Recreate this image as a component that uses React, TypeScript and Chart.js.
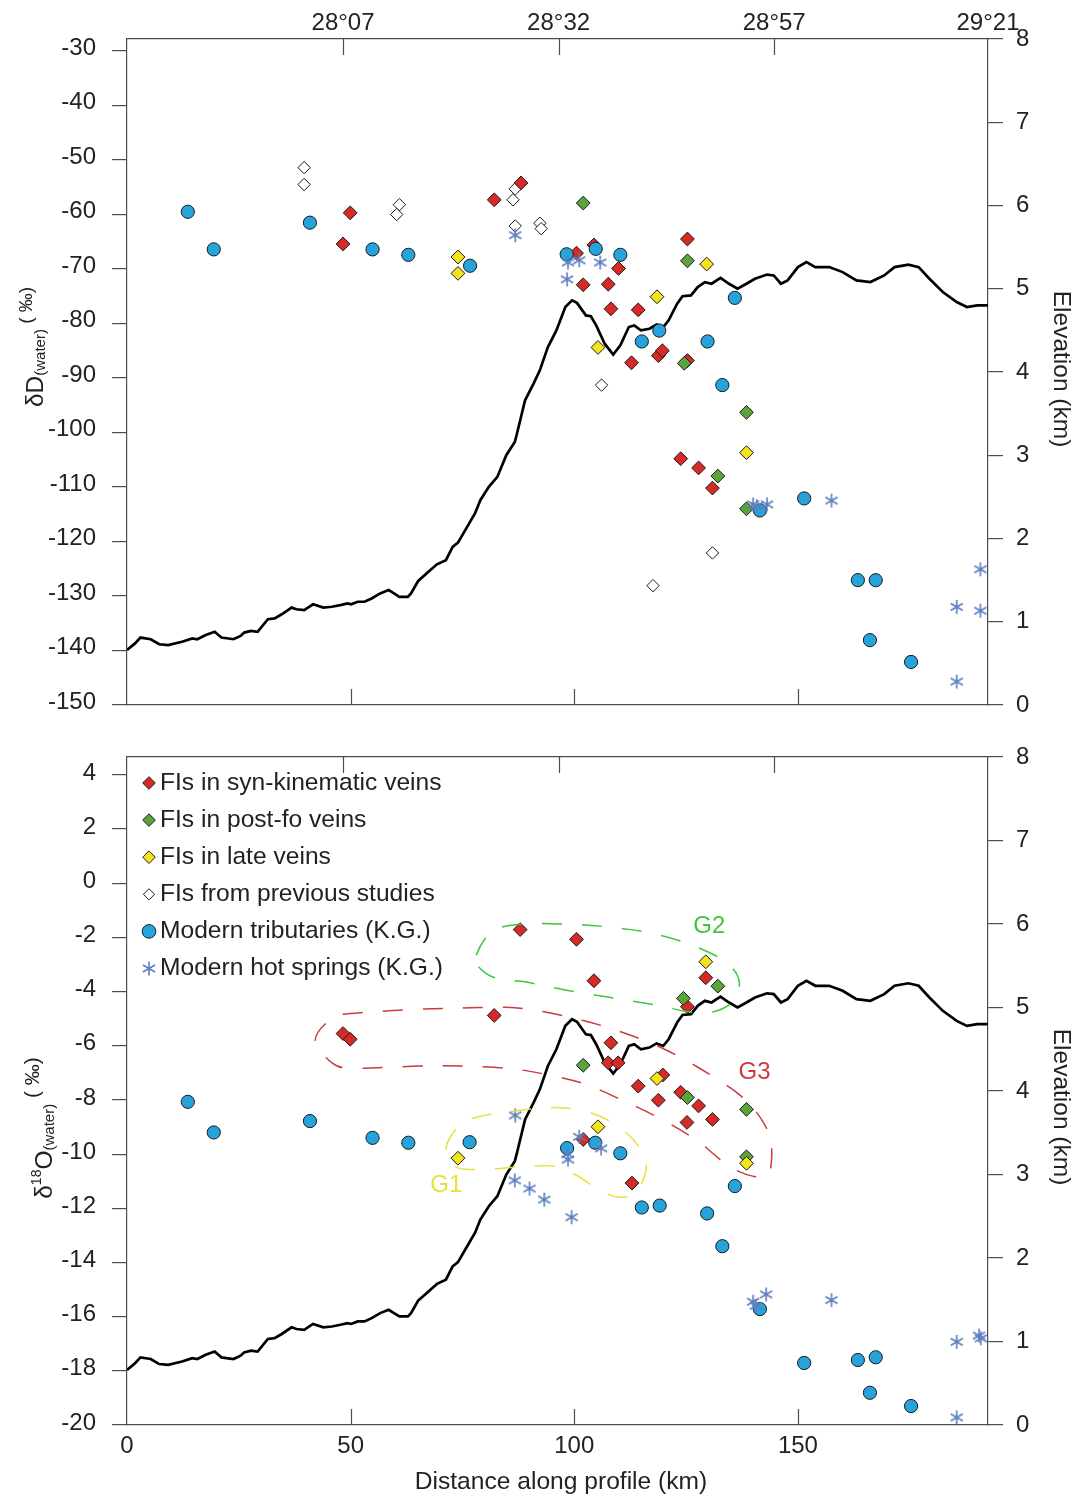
import React, { useEffect, useRef } from 'react';
import { Chart, registerables } from 'chart.js';

Chart.register(...registerables);

const FONT = '"Liberation Sans", Arial, Helvetica, sans-serif';
const AXIS = '#4d4d4d';
const TXT = '#222222';
const RED = '#d62a27';
const GREEN = '#5ba33b';
const YELLOW = '#f4e21c';
const WHITE = '#ffffff';
const BLUE = '#27a3dc';
const STAR = '#5a7fbf';
const G1C = '#e8e03c';
const G2C = '#3fc63f';
const G3C = '#cc3a3a';

// ---------- axes ----------
const X_MAX = 192.5;
const distTicks = [0, 50, 100, 150];
const lonTickKm = [48.3, 96.5, 144.7, 192.5];
const lonTickLabels = ['28°07', '28°32', '28°57', '29°21'];
const dDTicks = [-150, -140, -130, -120, -110, -100, -90, -80, -70, -60, -50, -40, -30];
const d18OTicks = [-20, -18, -16, -14, -12, -10, -8, -6, -4, -2, 0, 2, 4];
const elevTicks = [0, 1, 2, 3, 4, 5, 6, 7, 8];

// ---------- elevation profile (km, km a.s.l.) ----------
const profileKm = [
  0.0, 1.8, 3.0, 5.3, 7.2, 9.2, 12.3, 14.6, 15.7, 17.6, 19.6, 21.1, 23.8, 25.4, 26.2, 27.7, 29.2,
  31.5, 33.0, 34.6, 36.8, 37.9, 39.6, 41.6, 43.9, 45.8, 47.7, 49.3, 50.1, 51.6, 53.1, 54.7, 56.6,
  58.5, 59.7, 60.9, 62.8, 63.5, 65.1, 67.4, 69.3, 71.3, 72.8, 74.0, 76.7, 77.8, 79.0, 80.9, 82.8,
  84.8, 86.7, 87.1, 89.0, 90.9, 92.3, 94.1, 96.0, 98.0, 99.5, 100.6, 102.6, 103.7, 104.9, 106.8,
  108.7, 110.3, 112.2, 113.4, 114.9, 116.8, 118.4, 119.9, 121.1, 123.0, 124.2, 126.1, 127.6, 129.2,
  130.7, 132.7, 134.6, 136.5, 138.5, 140.4, 143.1, 144.6, 146.2, 147.7, 150.0, 151.9, 153.9, 157.0,
  160.0, 163.1, 166.2, 169.3, 171.6, 174.7, 177.0, 179.4, 182.4, 185.5, 187.8, 190.1, 192.5,
];
const profileElev = [
  0.66, 0.74, 0.81, 0.79, 0.73, 0.72, 0.76, 0.80, 0.79, 0.84, 0.88, 0.81, 0.79, 0.83, 0.87, 0.89, 0.88,
  1.03, 1.04, 1.09, 1.17, 1.15, 1.14, 1.21, 1.17, 1.18, 1.20, 1.22, 1.21, 1.24, 1.24, 1.28, 1.34,
  1.38, 1.34, 1.30, 1.30, 1.34, 1.49, 1.60, 1.69, 1.74, 1.90, 1.95, 2.20, 2.30, 2.46, 2.62, 2.74,
  3.00, 3.16, 3.24, 3.66, 3.86, 4.02, 4.30, 4.50, 4.78, 4.86, 4.83, 4.68, 4.67, 4.56, 4.34,
  4.21, 4.32, 4.54, 4.56, 4.50, 4.52, 4.57, 4.54, 4.62, 4.82, 4.91, 4.92, 5.02, 5.08,
  5.06, 5.13, 5.06, 5.00, 5.06, 5.12, 5.17, 5.16, 5.06, 5.10, 5.26, 5.32, 5.26, 5.26,
  5.20, 5.10, 5.08, 5.16, 5.26, 5.29, 5.26, 5.12, 4.96, 4.84, 4.78, 4.80, 4.80,
];

// ---------- δD (water) [km, ‰] ----------
const dDSyn = [
  [48.3, -65.4], [49.9, -59.7], [82.1, -57.3], [88.1, -54.2], [100.5, -67.1], [104.4, -65.6],
  [102.0, -72.9], [107.6, -72.8], [109.9, -69.9], [108.2, -77.3], [114.3, -77.5], [112.8, -87.2],
  [118.8, -85.9], [119.7, -85.0], [125.3, -64.5], [125.3, -86.8], [123.8, -104.8], [127.8, -106.5],
  [130.9, -110.2],
];
const dDPost = [[102.0, -57.9], [125.3, -68.5], [124.6, -87.3], [138.5, -96.3], [132.1, -108.0], [138.5, -114.0]];
const dDLate = [[74.0, -67.8], [74.0, -70.8], [105.3, -84.4], [118.5, -75.1], [129.6, -69.1], [138.5, -103.7]];
const dDPrev = [
  [39.6, -51.4], [39.6, -54.5], [60.9, -58.2], [60.3, -60.0], [86.3, -57.3], [86.8, -55.3],
  [86.8, -62.1], [92.3, -61.6], [92.6, -62.6], [106.1, -91.3], [117.6, -128.1], [130.9, -122.1],
];
const dDTrib = [
  [13.6, -59.5], [19.4, -66.4], [40.9, -61.5], [54.9, -66.4], [62.9, -67.4], [76.7, -69.4],
  [98.3, -67.3], [104.8, -66.3], [110.3, -67.4], [115.1, -83.3], [119.0, -81.3], [129.8, -83.3],
  [135.9, -75.3], [133.1, -91.3], [141.5, -114.3], [151.4, -112.1], [163.4, -127.1], [167.4, -127.1],
  [166.1, -138.1], [175.3, -142.1],
];
const dDSpring = [
  [86.8, -63.8], [98.4, -71.9], [98.6, -68.8], [101.1, -68.4], [105.8, -68.8], [140.0, -113.2],
  [140.8, -113.5], [143.1, -113.2], [157.5, -112.5], [185.5, -132.0], [185.5, -145.7],
  [190.8, -125.1], [190.8, -132.7],
];

// ---------- δ18O (water) [km, ‰] ----------
const oSyn = [
  [48.3, -5.55], [49.9, -5.76], [82.1, -4.88], [87.9, -1.71], [100.5, -2.07], [104.4, -3.6],
  [129.4, -3.49], [125.3, -4.56], [108.2, -5.89], [107.6, -6.63], [109.8, -6.63], [119.8, -7.08],
  [114.3, -7.49], [123.8, -7.72], [118.8, -8.01], [127.8, -8.22], [125.2, -8.83], [130.9, -8.72],
  [102.0, -9.46], [112.9, -11.07],
];
const oPost = [[102.0, -6.72], [124.4, -4.25], [132.1, -3.8], [125.3, -7.91], [138.5, -8.35], [138.5, -10.1]];
const oLate = [[74.0, -10.15], [105.3, -8.99], [118.5, -7.21], [129.4, -2.9], [138.5, -10.34]];
const oTrib = [
  [13.6, -8.07], [19.4, -9.2], [40.9, -8.78], [54.9, -9.4], [62.9, -9.58], [76.6, -9.56],
  [98.4, -9.78], [104.7, -9.58], [110.3, -9.97], [115.1, -11.97], [119.1, -11.9], [129.7, -12.19],
  [135.9, -11.18], [133.1, -13.4], [141.5, -15.72], [151.4, -17.71], [163.4, -17.6], [167.4, -17.5],
  [166.1, -18.81], [175.3, -19.3],
];
const oSpring = [
  [86.8, -8.57], [86.7, -10.97], [90.0, -11.27], [93.3, -11.68], [99.4, -12.33], [98.5, -10.0],
  [98.6, -10.2], [101.1, -9.36], [106.0, -9.79], [140.0, -15.45], [140.6, -15.6], [142.9, -15.18],
  [157.5, -15.39], [185.5, -16.93], [190.5, -16.7], [190.9, -16.8], [185.5, -19.72],
];

// ---------- group outlines in the δ18O panel [km, ‰] ----------
const g1Outline = [
  [71.4, -9.74], [74.9, -8.86], [80.3, -8.56], [84.8, -8.45], [92.8, -8.3], [98.2, -8.3], [104.0, -8.49],
  [110.1, -9.0], [114.5, -9.74], [116.1, -10.48], [113.9, -11.4], [110.1, -11.59], [105.6, -11.33],
  [100.4, -10.77], [95.1, -10.44], [87.7, -10.48], [80.3, -10.55], [73.6, -10.48],
];
const g2Outline = [
  [78.1, -2.66], [81.4, -1.81], [87.7, -1.51], [98.2, -1.51], [107.8, -1.62], [117.4, -1.85],
  [126.4, -2.29], [134.0, -2.92], [136.9, -3.65], [135.1, -4.43], [128.6, -4.8], [118.3, -4.5],
  [107.8, -4.21], [98.2, -3.95], [89.3, -3.65], [82.6, -3.51], [78.7, -3.1],
];
const g3Outline = [
  [42.1, -5.79], [45.9, -4.98], [50.8, -4.8], [65.3, -4.65], [74.9, -4.61], [84.8, -4.58], [92.2, -4.72],
  [101.8, -5.06], [110.7, -5.5], [119.7, -6.09], [128.0, -6.83], [136.2, -7.71], [140.7, -8.45],
  [143.6, -9.3], [144.1, -10.22], [142.5, -10.85], [135.3, -10.52], [127.3, -9.48], [119.0, -8.67],
  [110.7, -8.01], [101.8, -7.38], [92.2, -7.01], [84.8, -6.83], [74.9, -6.75], [65.3, -6.75],
  [50.8, -6.83], [45.9, -6.64],
];
const groupLabels = ['G1', 'G2', 'G3'];
const groupLabelPos = [[71.4, -11.14], [130.2, -1.6], [140.3, -7.0]];

const legendLabels = [
  'FIs in syn-kinematic veins',
  'FIs in post-fo veins',
  'FIs in late veins',
  'FIs from previous studies',
  'Modern tributaries (K.G.)',
  'Modern hot springs (K.G.)',
];

// ---------- helpers ----------
const pts = (arr: number[][]) => arr.map(([x, y]) => ({ x, y }));

function makeStar(color: string, r: number) {
  const s = Math.ceil(2 * r + 4);
  const c = document.createElement('canvas');
  c.width = s;
  c.height = s;
  const g = c.getContext('2d') as CanvasRenderingContext2D;
  drawStar(g, s / 2, s / 2, r, color);
  return c;
}

function drawStar(g: CanvasRenderingContext2D, x: number, y: number, r: number, color: string) {
  g.save();
  g.strokeStyle = color;
  g.lineWidth = 1.6;
  g.beginPath();
  for (let k = 0; k < 3; k++) {
    const a = Math.PI / 2 + (k * Math.PI) / 3;
    g.moveTo(x + Math.cos(a) * r, y - Math.sin(a) * r);
    g.lineTo(x - Math.cos(a) * r, y + Math.sin(a) * r);
  }
  g.stroke();
  g.restore();
}

function drawDiamond(g: CanvasRenderingContext2D, x: number, y: number, r: number, fill: string) {
  g.save();
  g.beginPath();
  g.moveTo(x - r, y);
  g.lineTo(x, y - r);
  g.lineTo(x + r, y);
  g.lineTo(x, y + r);
  g.closePath();
  g.fillStyle = fill;
  g.fill();
  g.lineWidth = 1;
  g.strokeStyle = '#1a1a1a';
  g.stroke();
  g.restore();
}

function drawCircle(g: CanvasRenderingContext2D, x: number, y: number, r: number, fill: string) {
  g.save();
  g.beginPath();
  g.arc(x, y, r, 0, Math.PI * 2);
  g.fillStyle = fill;
  g.fill();
  g.lineWidth = 1;
  g.strokeStyle = '#1a1a1a';
  g.stroke();
  g.restore();
}

type Seg = { t: string; size: number; dy: number };

function drawRich(g: CanvasRenderingContext2D, segs: Seg[], x: number, y: number, rot: number) {
  g.save();
  g.translate(x, y);
  g.rotate(rot);
  g.textAlign = 'left';
  g.textBaseline = 'alphabetic';
  g.fillStyle = TXT;
  const widths = segs.map((s) => {
    g.font = `${s.size}px ${FONT}`;
    return g.measureText(s.t).width;
  });
  const total = widths.reduce((a, b) => a + b, 0);
  let cx = -total / 2;
  segs.forEach((s, i) => {
    g.font = `${s.size}px ${FONT}`;
    g.fillText(s.t, cx, s.dy);
    cx += widths[i];
  });
  g.restore();
}

function drawInsideTicks(chart: any) {
  const g = chart.ctx as CanvasRenderingContext2D;
  const { top, bottom } = chart.chartArea;
  const xs = chart.scales.x;
  g.save();
  g.strokeStyle = AXIS;
  g.lineWidth = 1.2;
  g.beginPath();
  distTicks.slice(1).forEach((v) => {
    const px = Math.round(xs.getPixelForValue(v)) + 0.5;
    g.moveTo(px, bottom);
    g.lineTo(px, bottom - 16);
  });
  lonTickKm.slice(0, 3).forEach((v) => {
    const px = Math.round(xs.getPixelForValue(v)) + 0.5;
    g.moveTo(px, top);
    g.lineTo(px, top + 16);
  });
  g.stroke();
  g.restore();
}

function drawOutline(chart: any, outline: number[][], color: string) {
  const g = chart.ctx as CanvasRenderingContext2D;
  const xs = chart.scales.x;
  const ys = chart.scales.y;
  const p = outline.map(([a, b]) => ({ x: xs.getPixelForValue(a), y: ys.getPixelForValue(b) }));
  const n = p.length;
  g.save();
  g.strokeStyle = color;
  g.lineWidth = 1.5;
  g.setLineDash([20, 20]);
  g.beginPath();
  g.moveTo(p[0].x, p[0].y);
  for (let i = 0; i < n; i++) {
    const p0 = p[(i - 1 + n) % n];
    const p1 = p[i];
    const p2 = p[(i + 1) % n];
    const p3 = p[(i + 2) % n];
    g.bezierCurveTo(
      p1.x + (p2.x - p0.x) / 6, p1.y + (p2.y - p0.y) / 6,
      p2.x - (p3.x - p1.x) / 6, p2.y - (p3.y - p1.y) / 6,
      p2.x, p2.y,
    );
  }
  g.closePath();
  g.stroke();
  g.restore();
}

const zeroPad = (s: any) => {
  s.paddingTop = 0;
  s.paddingBottom = 0;
  s.paddingLeft = 0;
  s.paddingRight = 0;
};

function xBottomScale(height: number, showLabels: boolean) {
  return {
    type: 'linear',
    position: 'bottom',
    min: 0,
    max: X_MAX,
    afterBuildTicks: (s: any) => { s.ticks = distTicks.map((v) => ({ value: v })); },
    afterFit: (s: any) => { s.height = height; zeroPad(s); },
    ticks: {
      display: showLabels,
      font: { family: FONT, size: 24 },
      color: TXT,
      padding: 7,
      maxRotation: 0,
      autoSkip: false,
      callback: (v: any) => String(v),
    },
    grid: { display: false, drawTicks: false, tickLength: 0 },
    border: { display: true, color: AXIS, width: 1.2 },
  };
}

function xTopScale(height: number, showLabels: boolean) {
  return {
    type: 'linear',
    position: 'top',
    min: 0,
    max: X_MAX,
    afterBuildTicks: (s: any) => { s.ticks = lonTickKm.map((v) => ({ value: v })); },
    afterFit: (s: any) => { s.height = height; zeroPad(s); },
    ticks: {
      display: showLabels,
      font: { family: FONT, size: 24 },
      color: TXT,
      padding: 1,
      maxRotation: 0,
      autoSkip: false,
      callback: (_v: any, i: number) => lonTickLabels[i],
    },
    grid: { display: false, drawTicks: false, tickLength: 0 },
    border: { display: true, color: AXIS, width: 1.2 },
  };
}

function yScale(position: string, min: number, max: number, ticks: number[], width: number, padding: number, labelOffset: number) {
  return {
    type: 'linear',
    position,
    min,
    max,
    afterBuildTicks: (s: any) => { s.ticks = ticks.map((v) => ({ value: v })); },
    afterFit: (s: any) => { s.width = width; zeroPad(s); },
    ticks: {
      font: { family: FONT, size: 24 },
      color: TXT,
      padding,
      labelOffset,
      autoSkip: false,
      callback: (v: any) => String(v),
    },
    grid: { display: true, drawOnChartArea: false, drawTicks: true, tickLength: 15, color: AXIS, lineWidth: 1.2 },
    border: { display: true, color: AXIS, width: 1.2 },
  };
}

function buildDatasets(syn: number[][], post: number[][], late: number[][], prev: number[][] | null, trib: number[][], spring: number[][], star: HTMLCanvasElement) {
  const marker = (label: string, data: number[][], style: any, fill: string, r: number, order: number) => ({
    label,
    data: pts(data),
    xAxisID: 'x',
    yAxisID: 'y',
    showLine: false,
    pointStyle: style,
    pointRadius: r,
    pointHoverRadius: r,
    backgroundColor: fill,
    borderColor: '#1a1a1a',
    borderWidth: 1,
    order,
  });
  const ds: any[] = [
    {
      label: 'Elevation',
      data: profileKm.map((x, i) => ({ x, y: profileElev[i] })),
      xAxisID: 'x',
      yAxisID: 'yElev',
      showLine: true,
      borderColor: '#000000',
      borderWidth: 2.7,
      pointRadius: 0,
      tension: 0,
      fill: false,
      order: 10,
    },
  ];
  if (prev) ds.push(marker(legendLabels[3], prev, 'rectRot', WHITE, 6.2, 6));
  ds.push(marker(legendLabels[0], syn, 'rectRot', RED, 6.9, 5));
  ds.push(marker(legendLabels[1], post, 'rectRot', GREEN, 6.9, 4));
  ds.push(marker(legendLabels[2], late, 'rectRot', YELLOW, 6.9, 3));
  ds.push(marker(legendLabels[4], trib, 'circle', BLUE, 6.6, 2));
  ds.push(marker(legendLabels[5], spring, star, STAR, 7, 1));
  return ds;
}

function buildTop(star: HTMLCanvasElement): any {
  return {
    type: 'scatter',
    data: { datasets: buildDatasets(dDSyn, dDPost, dDLate, dDPrev, dDTrib, dDSpring, star) },
    options: {
      responsive: false,
      animation: false,
      events: [],
      layout: { padding: 0 },
      plugins: { legend: { display: false }, tooltip: { enabled: false } },
      scales: {
        x: xBottomScale(15, false),
        xTop: xTopScale(39, true),
        y: yScale('left', -150, -27.8, dDTicks, 127, 16, -3),
        yElev: yScale('right', 0, 8, elevTicks, 93, 13, 0),
      },
    },
    plugins: [
      {
        id: 'decoTop',
        afterDraw(chart: any) {
          const g = chart.ctx as CanvasRenderingContext2D;
          drawInsideTicks(chart);
          drawRich(g, [
            { t: 'δD', size: 24.5, dy: 0 },
            { t: '(water)', size: 15, dy: 2 },
            { t: ' ( ‰)', size: 19, dy: -11 },
          ], 43, 347, -Math.PI / 2);
          drawRich(g, [{ t: 'Elevation (km)', size: 24.5, dy: 0 }], 1054, 369, Math.PI / 2);
        },
      },
    ],
  };
}

function buildBottom(star: HTMLCanvasElement): any {
  return {
    type: 'scatter',
    data: { datasets: buildDatasets(oSyn, oPost, oLate, null, oTrib, oSpring, star) },
    options: {
      responsive: false,
      animation: false,
      events: [],
      layout: { padding: 0 },
      plugins: { legend: { display: false }, tooltip: { enabled: false } },
      scales: {
        x: xBottomScale(72, true),
        xTop: xTopScale(37, false),
        y: yScale('left', -20, 4.66, d18OTicks, 127, 16, -2),
        yElev: yScale('right', 0, 8, elevTicks, 93, 13, 0),
      },
    },
    plugins: [
      {
        id: 'decoBottom',
        afterDatasetsDraw(chart: any) {
          const g = chart.ctx as CanvasRenderingContext2D;
          drawOutline(chart, g1Outline, G1C);
          drawOutline(chart, g2Outline, G2C);
          drawOutline(chart, g3Outline, G3C);
          const xs = chart.scales.x;
          const ys = chart.scales.y;
          const cols = [G1C, G2C, G3C];
          g.save();
          g.font = `24px ${FONT}`;
          g.textAlign = 'center';
          g.textBaseline = 'middle';
          groupLabels.forEach((t, i) => {
            g.fillStyle = cols[i];
            g.fillText(t, xs.getPixelForValue(groupLabelPos[i][0]), ys.getPixelForValue(groupLabelPos[i][1]));
          });
          g.restore();
        },
        afterDraw(chart: any) {
          const g = chart.ctx as CanvasRenderingContext2D;
          const { left, top } = chart.chartArea;
          drawInsideTicks(chart);
          // legend
          const fills = [RED, GREEN, YELLOW, WHITE];
          legendLabels.forEach((t, i) => {
            const y = top + 26 + i * 37.1;
            const mx = left + 22;
            if (i < 4) drawDiamond(g, mx, y, i === 3 ? 5.6 : 6.3, fills[i]);
            else if (i === 4) drawCircle(g, mx, y, 6.8, BLUE);
            else drawStar(g, mx, y, 7, STAR);
            g.save();
            g.font = `24.6px ${FONT}`;
            g.fillStyle = TXT;
            g.textAlign = 'left';
            g.textBaseline = 'middle';
            g.fillText(t, left + 33, y);
            g.restore();
          });
          // axis titles
          drawRich(g, [
            { t: 'δ', size: 24.5, dy: 0 },
            { t: '18', size: 14, dy: -11 },
            { t: 'O', size: 24.5, dy: 0 },
            { t: '(water)', size: 15, dy: 2 },
            { t: ' ( ‰)', size: 21, dy: -13 },
          ], 52, 408, -Math.PI / 2);
          drawRich(g, [{ t: 'Elevation (km)', size: 24.5, dy: 0 }], 1054, 387, Math.PI / 2);
          g.save();
          g.font = `24.6px ${FONT}`;
          g.fillStyle = TXT;
          g.textAlign = 'center';
          g.textBaseline = 'middle';
          g.fillText('Distance along profile (km)', 561, 762);
          g.restore();
        },
      },
    ],
  };
}

export default function App() {
  const topRef = useRef<HTMLCanvasElement>(null);
  const botRef = useRef<HTMLCanvasElement>(null);

  useEffect(() => {
    const star = makeStar(STAR, 7);
    const c1 = new Chart(topRef.current as HTMLCanvasElement, buildTop(star));
    const c2 = new Chart(botRef.current as HTMLCanvasElement, buildBottom(star));
    return () => {
      c1.destroy();
      c2.destroy();
    };
  }, []);

  return (
    <div style={{ position: 'absolute', left: 0, top: 0, width: 1081, height: 1497, background: '#ffffff' }}>
      <canvas ref={topRef} width={1081} height={720} style={{ display: 'block', width: 1081, height: 720 }} />
      <canvas ref={botRef} width={1081} height={777} style={{ display: 'block', width: 1081, height: 777 }} />
    </div>
  );
}
